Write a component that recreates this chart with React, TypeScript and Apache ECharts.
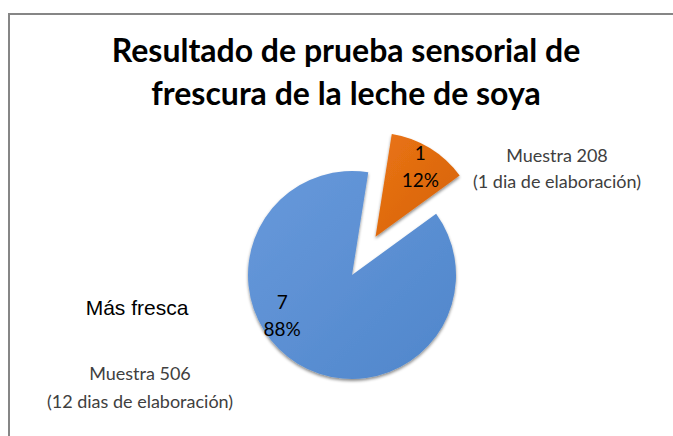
import React, { useEffect, useRef } from "react";
import * as echarts from "echarts";

const categories = ["Muestra 208\n(1 dia de elaboración)", "Muestra 506\n(12 dias de elaboración)"];
const values = [1, 7];
const percentLabels = ["12%", "88%"];
const titleLines = ["Resultado de prueba sensorial de", "frescura de la leche de soya"];
const annotation = "Más fresca";

const sliceColors = [
  new echarts.graphic.LinearGradient(0, 0, 1, 1, [
    { offset: 0, color: "#EA7414" },
    { offset: 1, color: "#D5620B" },
  ]),
  new echarts.graphic.LinearGradient(0, 0, 1, 1, [
    { offset: 0, color: "#6899DB" },
    { offset: 1, color: "#4F86CB" },
  ]),
];

export default function App() {
  const ref = useRef<HTMLDivElement>(null);
  useEffect(() => {
    document.body.style.margin = "0";
    const chart = echarts.init(ref.current!, null, { renderer: "svg" });
    const center = [352, 275];
    const r = 104;
    const common = {
      type: "pie",
      center,
      startAngle: 81,
      clockwise: true,
      selectedMode: "single",
      selectedOffset: 45,
      silent: true,
      animation: false,
      emphasis: { disabled: true },
    };
    chart.setOption({
      animation: false,
      backgroundColor: "#ffffff",
      graphic: [
        {
          type: "rect",
          shape: { x: 9, y: 14, width: 800, height: 600 },
          style: { fill: "none", stroke: "#868686", lineWidth: 2 },
          silent: true,
        },
        {
          type: "text",
          x: 346,
          y: 28,
          style: {
            text: titleLines.join("\n"),
            font: "bold 32px Lato",
            lineHeight: 43,
            fill: "#000000",
            textAlign: "center",
            textVerticalAlign: "top",
          },
        },
        {
          type: "text",
          x: 137,
          y: 307,
          style: {
            text: annotation,
            font: "21px 'Liberation Sans'",
            fill: "#000000",
            textAlign: "center",
            textVerticalAlign: "middle",
          },
        },
        {
          type: "text",
          x: 557,
          y: 168,
          style: {
            text: categories[0],
            font: "18px Lato",
            lineHeight: 26,
            fill: "#404040",
            textAlign: "center",
            textVerticalAlign: "middle",
          },
        },
        {
          type: "text",
          x: 140,
          y: 387,
          style: {
            text: categories[1],
            font: "18px Lato",
            lineHeight: 28,
            fill: "#404040",
            textAlign: "center",
            textVerticalAlign: "middle",
          },
        },
      ],
      series: [
        {
          ...common,
          radius: r,
          label: { show: false },
          labelLine: { show: false },
          itemStyle: {
            shadowColor: "rgba(0,0,0,0.45)",
            shadowBlur: 3,
            shadowOffsetY: 2,
          },
          data: values.map((v, i) => ({
            name: categories[i],
            value: v,
            selected: i === 0,
            itemStyle: { color: sliceColors[i] },
          })),
        },
        {
          ...common,
          radius: [54, r],
          itemStyle: { color: "rgba(0,0,0,0)" },
          labelLine: { show: false },
          label: {
            show: true,
            position: "inside",
            formatter: (p: any) => `${p.value}\n${percentLabels[p.dataIndex]}`,
            fontFamily: "Lato",
            fontSize: 19,
            lineHeight: 27,
            color: "#000000",
          },
          labelLayout: (p: any) => (p.dataIndex === 1 ? { dx: -27, dy: -30 } : { dx: 2, dy: -1 }),
          data: values.map((v, i) => ({
            name: categories[i],
            value: v,
            selected: i === 0,
          })),
        },
      ],
    });
    return () => chart.dispose();
  }, []);
  return <div ref={ref} style={{ width: 673, height: 436 }} />;
}
